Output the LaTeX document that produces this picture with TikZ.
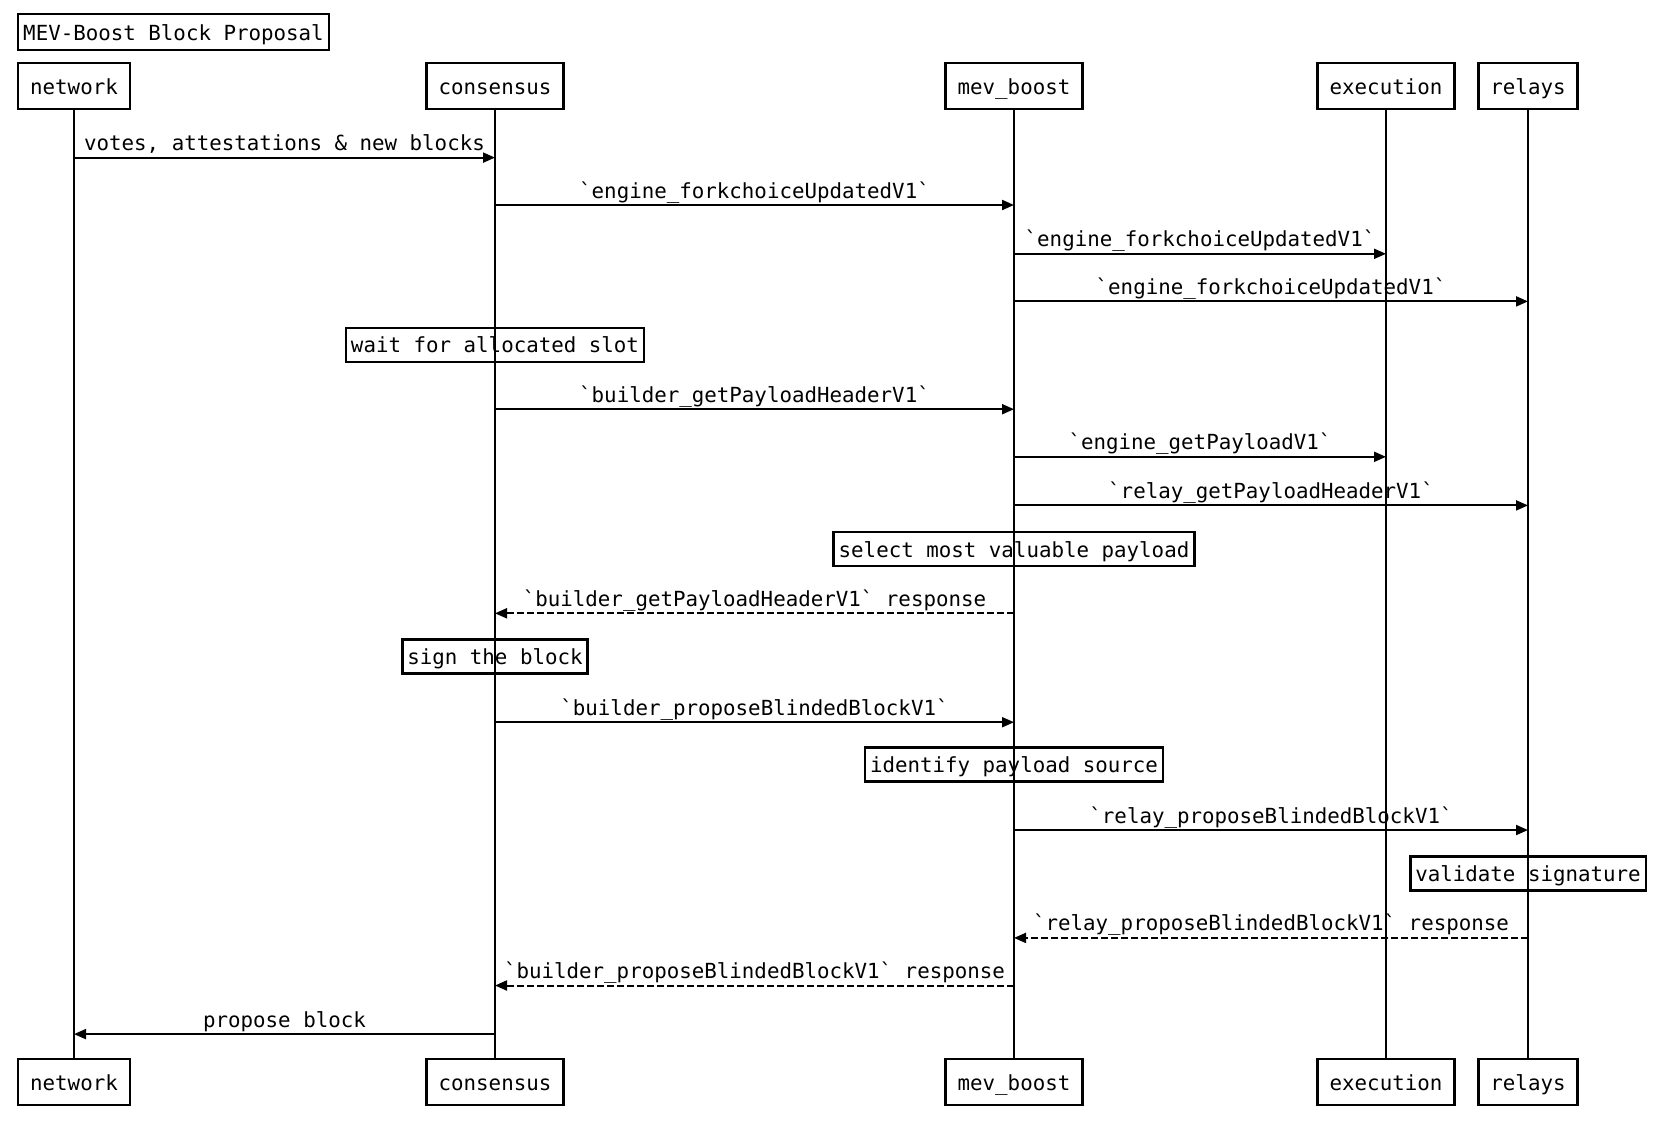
\documentclass[tikz,border=0pt]{standalone}
\usepackage{fontspec}
\setmonofont{DejaVu Sans Mono}
\usetikzlibrary{arrows.meta}
\begin{document}
\begin{tikzpicture}[x=0.5pt,y=-0.5pt,
  every node/.style={font=\ttfamily\fontsize{10.4}{12}\selectfont},
  actor/.style={draw,line width=1.2pt,fill=white,minimum height=23pt,inner xsep=6pt,inner ysep=0pt,text height=9.2pt,text depth=1pt},
  note/.style={draw,line width=1.2pt,minimum height=17pt,inner xsep=2.5pt,inner ysep=0pt,text height=9.2pt,text depth=1pt},
  life/.style={line width=1.3pt},
  msg/.style={line width=1pt,-{Triangle[length=6pt,width=5pt]}},
  reply/.style={msg,dash pattern=on 3.5pt off 1.5pt},
  lbl/.style={anchor=base,inner sep=0pt}]
\useasboundingbox (0,0) rectangle (1658,1126);
% title
\node[note,minimum height=18pt] (title) at (173.5,32) {MEV-Boost Block Proposal};
% participants (top and bottom)
\node[actor] (nt) at (74,86) {network};
\node[actor] (ct) at (495,86) {consensus};
\node[actor] (mt) at (1014,86) {mev\_boost};
\node[actor] (et) at (1386,86) {execution};
\node[actor] (rt) at (1528,86) {relays};
\node[actor] (nb) at (74,1082) {network};
\node[actor] (cb) at (495,1082) {consensus};
\node[actor] (mb) at (1014,1082) {mev\_boost};
\node[actor] (eb) at (1386,1082) {execution};
\node[actor] (rb) at (1528,1082) {relays};
% lifelines
\draw[life] (nt.south) -- (nb.north);
\draw[life] (ct.south) -- (cb.north);
\draw[life] (mt.south) -- (mb.north);
\draw[life] (et.south) -- (eb.north);
\draw[life] (rt.south) -- (rb.north);
% messages
\newcommand\msgline[5]{%
  \draw[#1] (#2 |- 0,#4) -- (#3 |- 0,#4);
  \path (#2 |- 0,#4) -- (#3 |- 0,#4) node[lbl,pos=0.5,yshift=3.5pt] {#5};}
\msgline{msg}{nt}{ct}{157.6}{votes, attestations \& new blocks}
\msgline{msg}{ct}{mt}{205}{`engine\_forkchoiceUpdatedV1`}
\msgline{msg}{mt}{et}{253.8}{`engine\_forkchoiceUpdatedV1`}
\msgline{msg}{mt}{rt}{301.4}{`engine\_forkchoiceUpdatedV1`}
\node[note] (n1) at (495,344.7) {wait for allocated slot};
\msgline{msg}{ct}{mt}{409.2}{`builder\_getPayloadHeaderV1`}
\msgline{msg}{mt}{et}{456.8}{`engine\_getPayloadV1`}
\msgline{msg}{mt}{rt}{505.4}{`relay\_getPayloadHeaderV1`}
\node[note] (n2) at (1014,548.8) {select most valuable payload};
\msgline{reply}{mt}{ct}{613.3}{`builder\_getPayloadHeaderV1` response}
\node[note] (n3) at (495,656.6) {sign the block};
\msgline{msg}{ct}{mt}{722.2}{`builder\_proposeBlindedBlockV1`}
\node[note] (n4) at (1014,764.5) {identify payload source};
\msgline{msg}{mt}{rt}{830}{`relay\_proposeBlindedBlockV1`}
\node[note] (n5) at (1528,873.4) {validate signature};
\msgline{reply}{rt}{mt}{937.9}{`relay\_proposeBlindedBlockV1` response}
\msgline{reply}{mt}{ct}{985.5}{`builder\_proposeBlindedBlockV1` response}
\msgline{msg}{ct}{nt}{1034.1}{propose block}
\end{tikzpicture}
\end{document}
